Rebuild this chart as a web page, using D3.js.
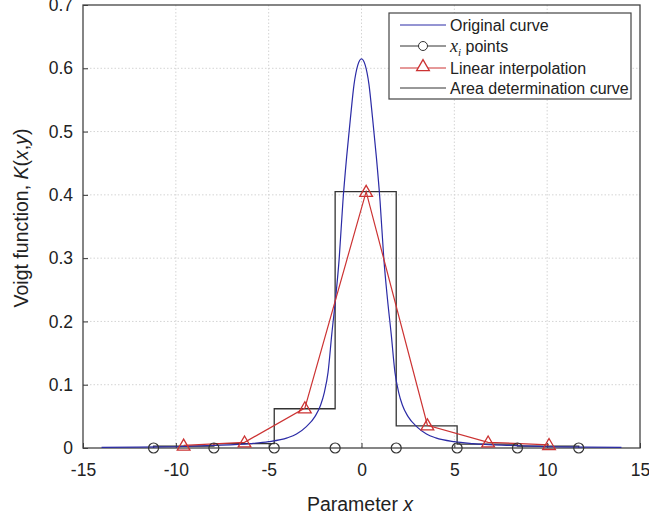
<html>
<head>
<meta charset="utf-8">
<style>
  body { margin: 0; background: #fff; }
  svg { font-family: "Liberation Sans", Arial, sans-serif; }
  .grid line { stroke: #d4d4d4; stroke-dasharray: 1.5 2; }
  .tick-label { font-size: 17.5px; fill: #222; }
</style>
</head>
<body>
<svg width="649" height="520"></svg>
<script src="https://d3js.org/d3.v7.min.js"></script>
<script>
// original Voigt curve
const curveX = [-14, -12, -10, -8, -6, -5, -4, -3.5, -3, -2.5, -2.2, -2, -1.8, -1.6, -1.4, -1.2, -1, -0.8, -0.6, -0.4, -0.2, 0,
                0.2, 0.4, 0.6, 0.8, 1, 1.2, 1.4, 1.6, 1.8, 2, 2.2, 2.5, 3, 3.5, 4, 5, 6, 8, 10, 12, 14];
const curveY = [0.001, 0.0015, 0.002, 0.004, 0.007, 0.01, 0.016, 0.022, 0.033, 0.05, 0.068, 0.088, 0.12, 0.18, 0.235, 0.30, 0.39, 0.46, 0.52, 0.575, 0.605, 0.615,
                0.605, 0.575, 0.52, 0.46, 0.39, 0.30, 0.235, 0.18, 0.12, 0.088, 0.068, 0.05, 0.033, 0.022, 0.016, 0.01, 0.007, 0.004, 0.002, 0.0015, 0.001];

// x_i points (sit on zero)
const pointsX = [-11.2, -7.95, -4.7, -1.42, 1.87, 5.15, 8.4, 11.7];

// linear interpolation (triangles)
const interpX = [-9.58, -6.3, -3.05, 0.25, 3.55, 6.82, 10.1];
const interpY = [0.004, 0.009, 0.063, 0.405, 0.036, 0.009, 0.005];

// area determination steps (between x_i points)
const stepY = [0.003, 0.007, 0.062, 0.405, 0.035, 0.006, 0.003];

const xTicks = [-15, -10, -5, 0, 5, 10, 15];
const yTicks = [0, 0.1, 0.2, 0.3, 0.4, 0.5, 0.6, 0.7];

const blue = "#2b2ba6", red = "#cc3333", dark = "#333";

const svg = d3.select("svg");
const mLeft = 83, mRight = 640, mTop = 5, mBottom = 448;

const x = d3.scaleLinear().domain([-15, 15]).range([mLeft, mRight]);
const y = d3.scaleLinear().domain([0, 0.7]).range([mBottom, mTop]);

// grid
const grid = svg.append("g").attr("class", "grid");
grid.selectAll(".gx").data(xTicks.slice(1, -1)).enter().append("line")
  .attr("x1", d => x(d)).attr("x2", d => x(d)).attr("y1", mTop).attr("y2", mBottom);
grid.selectAll(".gy").data(yTicks.slice(1, -1)).enter().append("line")
  .attr("x1", mLeft).attr("x2", mRight).attr("y1", d => y(d)).attr("y2", d => y(d));

// axes with inward ticks
const xAxis = svg.append("g").attr("transform", `translate(0,${mBottom})`)
  .call(d3.axisBottom(x).tickValues(xTicks).tickFormat(d => String(d)).tickSizeInner(-5).tickSizeOuter(0).tickPadding(12));
const yAxis = svg.append("g").attr("transform", `translate(${mLeft},0)`)
  .call(d3.axisLeft(y).tickValues(yTicks).tickFormat(d => d === 0 ? "0" : d.toFixed(1)).tickSizeInner(-5).tickSizeOuter(0).tickPadding(10));
[xAxis, yAxis].forEach(a => {
  a.select(".domain").remove();
  a.selectAll("line").attr("stroke", dark);
  a.selectAll("text").attr("class", "tick-label");
  a.attr("font-family", null).attr("font-size", null);
});
xAxis.selectAll("text").attr("dy", "0.9em");

// frame
svg.append("rect").attr("x", mLeft).attr("y", mTop).attr("width", mRight - mLeft).attr("height", mBottom - mTop)
  .attr("fill", "none").attr("stroke", "#444").attr("stroke-width", 1.3);

const plot = svg.append("g");

// area determination curve
const stepPath = [[pointsX[0], 0]];
stepY.forEach((v, i) => {
  stepPath.push([pointsX[i], v]);
  stepPath.push([pointsX[i + 1], v]);
});
stepPath.push([pointsX[pointsX.length - 1], 0]);
plot.append("path")
  .attr("d", d3.line().x(d => x(d[0])).y(d => y(d[1]))(stepPath))
  .attr("fill", "none").attr("stroke", dark).attr("stroke-width", 1.3);

// original curve
plot.append("path")
  .datum(curveX.map((d, i) => [d, curveY[i]]))
  .attr("d", d3.line().x(d => x(d[0])).y(d => y(d[1])).curve(d3.curveMonotoneX))
  .attr("fill", "none").attr("stroke", blue).attr("stroke-width", 1.2);

// linear interpolation
plot.append("path")
  .datum(interpX.map((d, i) => [d, interpY[i]]))
  .attr("d", d3.line().x(d => x(d[0])).y(d => y(d[1])))
  .attr("fill", "none").attr("stroke", red).attr("stroke-width", 1.2);

const tri = d3.symbol().type(d3.symbolTriangle).size(70);
plot.selectAll(".tri").data(interpX).enter().append("path")
  .attr("d", tri)
  .attr("transform", (d, i) => `translate(${x(d)},${y(interpY[i]) + 1})`)
  .attr("fill", "none").attr("stroke", red).attr("stroke-width", 1.3);

// x_i points
plot.selectAll(".pt").data(pointsX).enter().append("circle")
  .attr("cx", d => x(d)).attr("cy", y(0)).attr("r", 5)
  .attr("fill", "none").attr("stroke", dark).attr("stroke-width", 1.2);

// legend
const lg = svg.append("g");
lg.append("rect").attr("x", 389).attr("y", 13).attr("width", 242).attr("height", 86)
  .attr("fill", "#fff").attr("stroke", "#444").attr("stroke-width", 1.2);
const rows = [25, 46, 68, 88];
const lx1 = 400, lx2 = 446, lt = 450;
lg.append("line").attr("x1", lx1).attr("x2", lx2).attr("y1", rows[0]).attr("y2", rows[0]).attr("stroke", blue);
lg.append("line").attr("x1", lx1).attr("x2", lx2).attr("y1", rows[1]).attr("y2", rows[1]).attr("stroke", dark);
lg.append("circle").attr("cx", (lx1 + lx2) / 2).attr("cy", rows[1]).attr("r", 4.5).attr("fill", "#fff").attr("stroke", dark);
lg.append("line").attr("x1", lx1).attr("x2", lx2).attr("y1", rows[2]).attr("y2", rows[2]).attr("stroke", red);
lg.append("path").attr("d", tri).attr("transform", `translate(${(lx1 + lx2) / 2},${rows[2] - 1})`)
  .attr("fill", "#fff").attr("stroke", red).attr("stroke-width", 1.3);
lg.append("line").attr("x1", lx1).attr("x2", lx2).attr("y1", rows[3]).attr("y2", rows[3]).attr("stroke", dark);

const ltext = (row) => lg.append("text").attr("x", lt).attr("y", row).attr("dy", "0.35em")
  .attr("font-size", 16).attr("fill", "#222");
ltext(rows[0]).text("Original curve");
const t2 = ltext(rows[1]);
t2.append("tspan").attr("font-family", "Liberation Serif, serif").attr("font-style", "italic").attr("font-size", 18).text("x");
t2.append("tspan").attr("font-family", "Liberation Serif, serif").attr("font-style", "italic").attr("font-size", 11).attr("dy", 4).text("i");
t2.append("tspan").attr("dy", -4).text(" points");
ltext(rows[2]).text("Linear interpolation");
ltext(rows[3]).text("Area determination curve");

// axis titles
const xt = svg.append("text").attr("x", 360).attr("y", 511).attr("text-anchor", "middle")
  .attr("font-size", 19.5).attr("fill", "#222");
xt.append("tspan").text("Parameter ");
xt.append("tspan").attr("font-style", "italic").text("x");

const yt = svg.append("text").attr("transform", "translate(28,218) rotate(-90)").attr("text-anchor", "middle")
  .attr("font-size", 19.5).attr("fill", "#222");
yt.append("tspan").text("Voigt function, ");
yt.append("tspan").attr("font-style", "italic").text("K");
yt.append("tspan").text("(");
yt.append("tspan").attr("font-style", "italic").text("x");
yt.append("tspan").text(",");
yt.append("tspan").attr("font-style", "italic").text("y");
yt.append("tspan").text(")");
</script>
</body>
</html>
